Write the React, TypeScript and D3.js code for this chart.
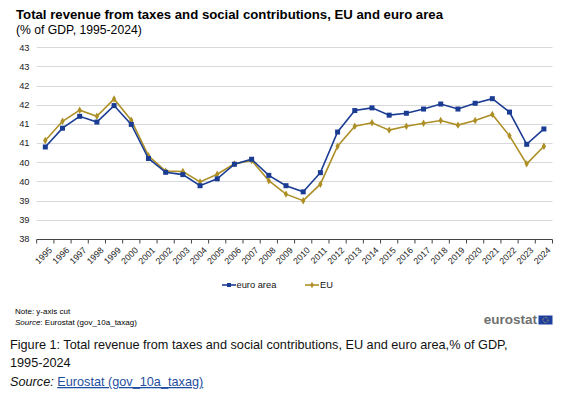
import React, { useEffect, useRef } from 'react';
import * as d3 from 'd3';

const years = d3.range(1995, 2025).map(String);

const euroArea = [
  40.4, 40.89, 41.2, 41.05, 41.48, 40.99, 40.1, 39.74, 39.68, 39.39, 39.57, 39.95, 40.08, 39.66, 39.39,
  39.23, 39.73, 40.79, 41.35, 41.42, 41.23, 41.28, 41.39, 41.52, 41.39, 41.54, 41.66, 41.31, 40.47, 40.87,
];

const eu = [
  40.57, 41.07, 41.36, 41.2, 41.65, 41.1, 40.17, 39.77, 39.76, 39.49, 39.69, 39.96, 40.05, 39.52, 39.17,
  39.0, 39.43, 40.42, 40.94, 41.03, 40.84, 40.94, 41.02, 41.09, 40.97, 41.09, 41.25, 40.69, 39.96, 40.42,
];

const yTicks = [38, 38.5, 39, 39.5, 40, 40.5, 41, 41.5, 42, 42.5, 43];
const yTickLabels = ['38', '39', '39', '40', '40', '41', '41', '42', '42', '43', '43'];

const BLUE = '#1a3c93';
const GOLD = '#ad8f26';
const FONT = '"Liberation Sans", Arial, sans-serif';

export default function App() {
  const ref = useRef<SVGSVGElement>(null);

  useEffect(() => {
    const svg = d3.select(ref.current);
    svg.selectAll('*').remove();
    svg.style('font-family', FONT);

    const x = d3.scaleBand().domain(years).range([36.7, 552.5]).padding(0);
    const y = d3.scaleLinear().domain([38, 43]).range([239, 47.3]);
    const cx = (yr: string) => x(yr)! + x.bandwidth() / 2;

    // titles
    svg.append('text').attr('x', 16).attr('y', 18.5).attr('font-size', 13.2).attr('font-weight', 'bold')
      .text('Total revenue from taxes and social contributions, EU and euro area');
    svg.append('text').attr('x', 16).attr('y', 34).attr('font-size', 12.2)
      .text('(% of GDP, 1995-2024)');

    // grid
    svg.append('g').selectAll('line').data(yTicks.slice(1)).enter().append('line')
      .attr('x1', 36.7).attr('x2', 552.5)
      .attr('y1', (d) => Math.round(y(d)) + 0.5).attr('y2', (d) => Math.round(y(d)) + 0.5)
      .attr('stroke', '#d9d9d9').attr('stroke-width', 1);

    // y labels
    svg.append('g').selectAll('text').data(yTicks).enter().append('text')
      .attr('x', 29.5).attr('y', (d) => y(d) + 3.3)
      .attr('text-anchor', 'end').attr('font-size', 9.3).attr('fill', '#222')
      .text((d, i) => yTickLabels[i]);

    // x axis
    const axis = svg.append('g').attr('transform', `translate(0,${Math.round(y(38)) + 0.5})`);
    axis.append('line').attr('x1', 36.7).attr('x2', 552.5).attr('stroke', '#444');
    axis.selectAll('.tk').data([...years.map((yr) => x(yr)!), 552.5]).enter().append('line')
      .attr('x1', (d) => d).attr('x2', (d) => d).attr('y1', 0).attr('y2', 4).attr('stroke', '#444');
    axis.selectAll('text').data(years).enter().append('text')
      .attr('transform', (d) => `translate(${cx(d) + 3},${7}) rotate(-45)`)
      .attr('text-anchor', 'end').attr('font-size', 8.8).attr('dy', '0.7em').attr('fill', '#222')
      .text((d) => d);

    const line = d3.line<number>().x((d, i) => cx(years[i])).y((d) => y(d));

    // EU
    svg.append('path').datum(eu).attr('d', line).attr('fill', 'none').attr('stroke', GOLD).attr('stroke-width', 1.6);
    svg.append('g').selectAll('path').data(eu).enter().append('path')
      .attr('d', d3.symbol(d3.symbolDiamond, 16)())
      .attr('transform', (d, i) => `translate(${cx(years[i])},${y(d)})`)
      .attr('fill', GOLD);

    // euro area
    svg.append('path').datum(euroArea).attr('d', line).attr('fill', 'none').attr('stroke', BLUE).attr('stroke-width', 1.6);
    svg.append('g').selectAll('rect').data(euroArea).enter().append('rect')
      .attr('x', (d, i) => cx(years[i]) - 2.5).attr('y', (d) => y(d) - 2.5)
      .attr('width', 5).attr('height', 5).attr('fill', BLUE);

    // legend
    const lg = svg.append('g').attr('font-size', 9.3).attr('fill', '#111');
    lg.append('line').attr('x1', 222).attr('x2', 236).attr('y1', 285).attr('y2', 285).attr('stroke', BLUE).attr('stroke-width', 1.6);
    lg.append('rect').attr('x', 227).attr('y', 283).attr('width', 4).attr('height', 4).attr('fill', BLUE);
    lg.append('text').attr('x', 236.5).attr('y', 288.4).text('euro area');
    lg.append('line').attr('x1', 305).attr('x2', 319).attr('y1', 285).attr('y2', 285).attr('stroke', GOLD).attr('stroke-width', 1.6);
    lg.append('path').attr('d', d3.symbol(d3.symbolDiamond, 12)()).attr('transform', 'translate(312,285)').attr('fill', GOLD);
    lg.append('text').attr('x', 320).attr('y', 288.4).text('EU');

    // notes
    svg.append('text').attr('x', 15).attr('y', 314).attr('font-size', 8).text('Note: y-axis cut');
    const src = svg.append('text').attr('x', 15).attr('y', 325).attr('font-size', 8);
    src.append('tspan').attr('font-style', 'italic').text('Source');
    src.append('tspan').text(': Eurostat (gov_10a_taxag)');

    // logo
    svg.append('text').attr('x', 537).attr('y', 324).attr('text-anchor', 'end')
      .attr('font-size', 13.5).attr('font-weight', 'bold').attr('fill', '#707070').text('eurostat');
    svg.append('rect').attr('x', 538.5).attr('y', 315.5).attr('width', 14).attr('height', 9).attr('fill', '#1f3f9f');
    svg.append('circle').attr('cx', 545.5).attr('cy', 320).attr('r', 2.6).attr('fill', 'none')
      .attr('stroke', '#e8c840').attr('stroke-width', 0.8).attr('stroke-dasharray', '0.8 0.8');

    // caption
    const cap = svg.append('g').attr('font-size', 12.7).attr('fill', '#111');
    cap.append('text').attr('x', 10).attr('y', 348.5)
      .text('Figure 1: Total revenue from taxes and social contributions, EU and euro area,% of GDP,');
    cap.append('text').attr('x', 10).attr('y', 367).text('1995-2024');
    const s2 = cap.append('text').attr('x', 10).attr('y', 386);
    s2.append('tspan').attr('font-style', 'italic').text('Source: ');
    s2.append('tspan').attr('fill', '#1f4ea0').attr('text-decoration', 'underline').text('Eurostat (gov_10a_taxag)');
  });

  return (
    <svg
      ref={ref}
      width={584}
      height={397}
      viewBox="0 0 584 397"
      style={{ position: 'absolute', left: 0, top: 0, background: '#fff' }}
    />
  );
}
